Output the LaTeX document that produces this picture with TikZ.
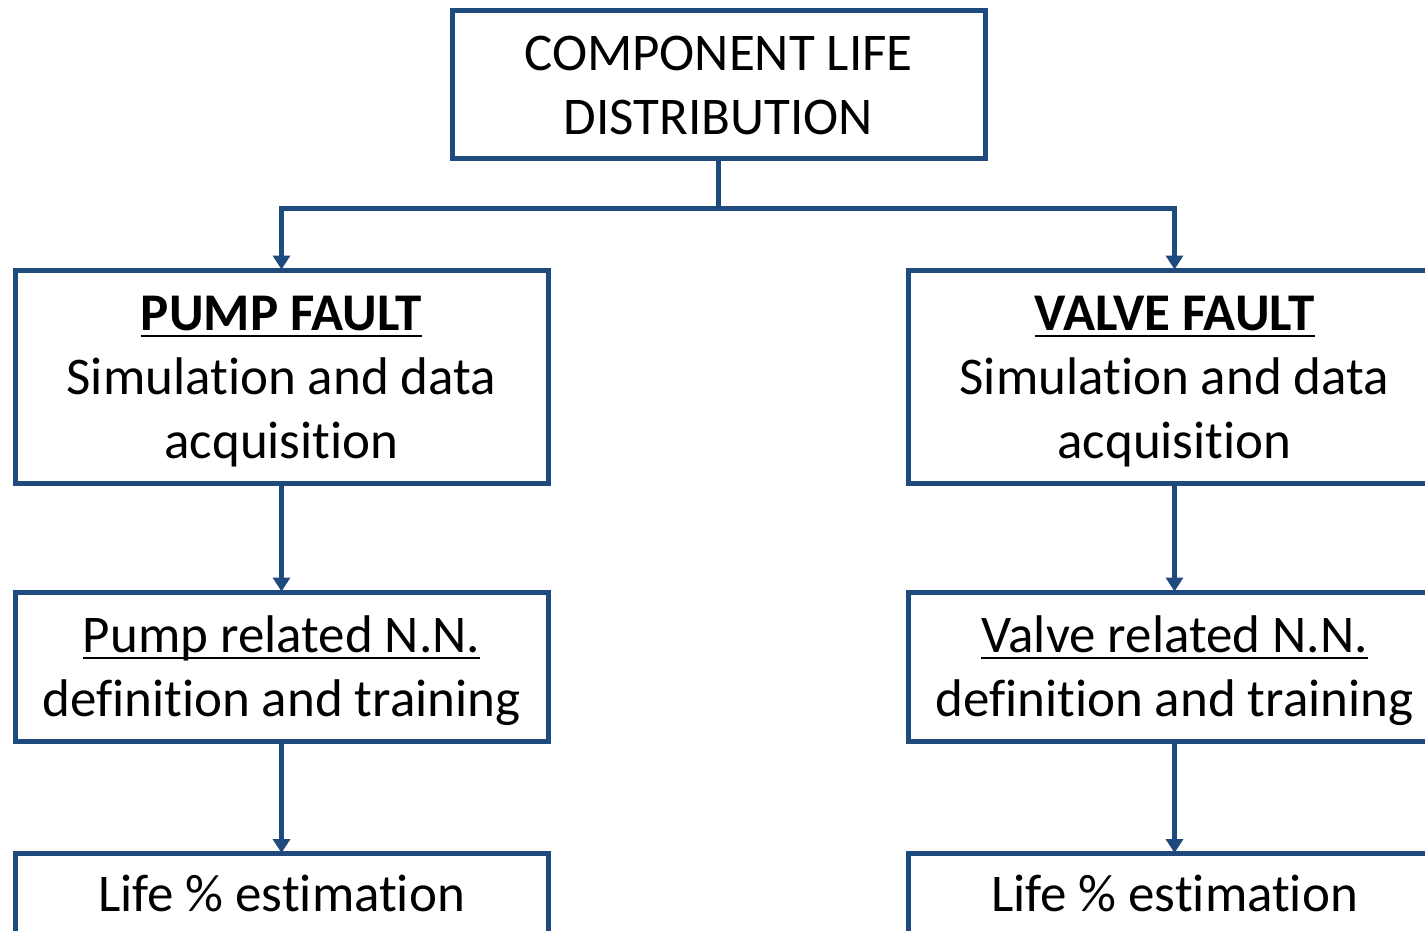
\documentclass[tikz,border=0pt]{standalone}
\usepackage{fontspec}
\setmainfont{Carlito}[Ligatures={NoCommon,NoRare,NoContextual}]
\usetikzlibrary{arrows.meta}
\definecolor{boxblue}{RGB}{31,74,126}
\newcommand\thickul[1]{\setbox0\hbox{#1}\rlap{\rule[-7pt]{\wd0}{2.8pt}}\box0}
\begin{document}
\begin{tikzpicture}[x=1pt,y=-1pt,
  box/.style={draw=boxblue, line width=5pt, minimum width=533pt, inner sep=0pt},
  txt/.style={inner sep=0pt, align=center, font=\fontsize{53}{64}\selectfont},
  conn/.style={draw=boxblue, line width=5pt},
  arr/.style={conn, -{Triangle[width=17pt,length=14pt]}, shorten >=-2pt}]
\useasboundingbox (0,0) rectangle (1425,931);
\clip (0,0) rectangle (1425,931);
\node[box, minimum height=148pt] (top) at (718.5,85) {};
\node[txt] (topt) at (top.center) {COMPONENT LIFE\\DISTRIBUTION};
\node[box, minimum height=213pt] (p1) at (281.5,376.5) {};
\node[txt] (p1t) at ([yshift=-5pt]p1.center) {\thickul{\textbf{PUMP FAULT}}\\Simulation and data\\acquisition};
\node[box, minimum height=213pt] (v1) at (1174.5,376.5) {};
\node[txt] (v1t) at ([yshift=-5pt]v1.center) {\thickul{\textbf{VALVE FAULT}}\\Simulation and data\\acquisition};
\node[box, minimum height=149pt] (p2) at (281.5,666.5) {};
\node[txt] (p2t) at ([yshift=-4pt]p2.center) {\thickul{Pump related N.N.}\\definition and training};
\node[box, minimum height=149pt] (v2) at (1174.5,666.5) {};
\node[txt] (v2t) at ([yshift=-4pt]v2.center) {\thickul{Valve related N.N.}\\definition and training};
\node[box, anchor=north, minimum height=150pt] (p3) at (281.5,851) {};
\node[txt, anchor=base] (p3t) at (281.5,911) {Life \% estimation};
\node[box, anchor=north, minimum height=150pt] (v3) at (1174.5,851) {};
\node[txt, anchor=base] (v3t) at (1174.5,911) {Life \% estimation};
\draw[conn] (top.south) -- ++(0,47) coordinate (j);
\draw[arr] (j) -| (p1.north);
\draw[arr] (j) -| (v1.north);
\draw[arr] (p1.south) -- (p2.north);
\draw[arr] (v1.south) -- (v2.north);
\draw[arr] (p2.south) -- (p3.north);
\draw[arr] (v2.south) -- (v3.north);
\end{tikzpicture}
\end{document}
